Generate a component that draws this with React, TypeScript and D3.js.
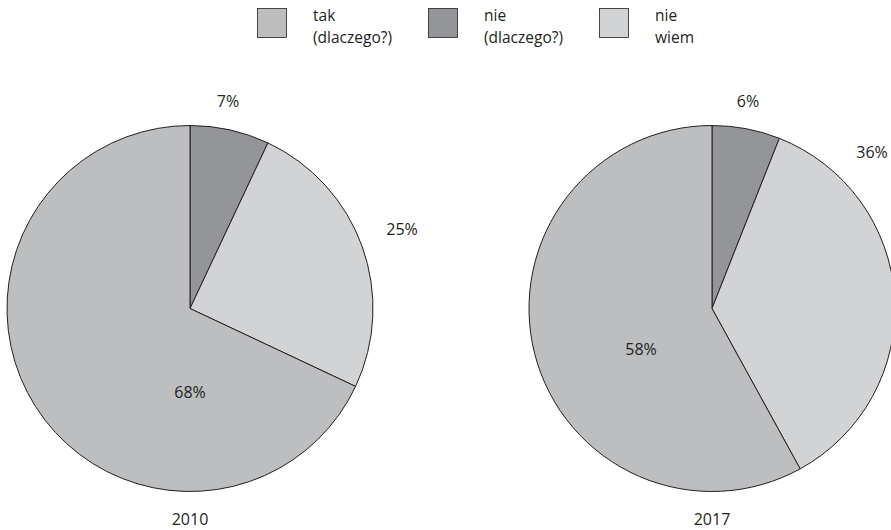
import React from "react";
import * as d3 from "d3";

const categories = ["nie (dlaczego?)", "nie wiem", "tak (dlaczego?)"];
const legendLabels = [["tak", "(dlaczego?)"], ["nie", "(dlaczego?)"], ["nie", "wiem"]];
const legendKeys = ["tak (dlaczego?)", "nie (dlaczego?)", "nie wiem"];
const years = ["2010", "2017"];
const values2010 = [7, 25, 68];
const values2017 = [6, 36, 58];

const W = 891, H = 530;
const colors: Record<string, string> = {
  "tak (dlaczego?)": "#bcbec0",
  "nie (dlaczego?)": "#939598",
  "nie wiem": "#d1d3d4",
};
const FONT = "'Open Sans', sans-serif";
const R = 183;
const centers = [[190, 308.5], [712, 308.5]];
// label offsets from pie centre (layout)
const labelOffsets = [
  [[38, -208], [212, -80], [0, 83]],
  [[36, -208], [160, -157], [-71, 40]],
];

export default function App() {
  const pie = d3.pie<number>().sort(null).value((d) => d);
  const arc = d3.arc<d3.PieArcDatum<number>>().innerRadius(0).outerRadius(R);
  const all = [values2010, values2017];
  return (
    <svg width={W} height={H} style={{ position: "absolute", left: 0, top: 0 }}>
      <rect width={W} height={H} fill="#fff" />
      {legendKeys.map((k, i) => (
        <g key={k} transform={`translate(${257.5 + i * 171},8.5)`}>
          <rect width={29} height={29} fill={colors[k]} stroke="#231f20" strokeWidth={0.8} />
          {legendLabels[i].map((t, j) => (
            <text key={j} x={55.5} y={12 + j * 22} fontFamily={FONT} fontSize={15.5} fill="#231f20">{t}</text>
          ))}
        </g>
      ))}
      {all.map((vals, p) => {
        const arcs = pie(vals);
        const [cx, cy] = centers[p];
        return (
          <g key={p} transform={`translate(${cx},${cy})`}>
            {arcs.map((a, i) => (
              <path key={i} d={arc(a) || ""} fill={colors[categories[i]]} stroke="#231f20" strokeWidth={1} strokeLinejoin="round" />
            ))}
            {arcs.map((a, i) => (
              <text key={"l" + i} x={labelOffsets[p][i][0]} y={labelOffsets[p][i][1]} textAnchor="middle" dominantBaseline="central" fontFamily={FONT} fontSize={16} fill="#231f20">
                {vals[i]}%
              </text>
            ))}
            <text x={0} y={210} textAnchor="middle" dominantBaseline="central" fontFamily={FONT} fontSize={16} fill="#231f20">{years[p]}</text>
          </g>
        );
      })}
    </svg>
  );
}
